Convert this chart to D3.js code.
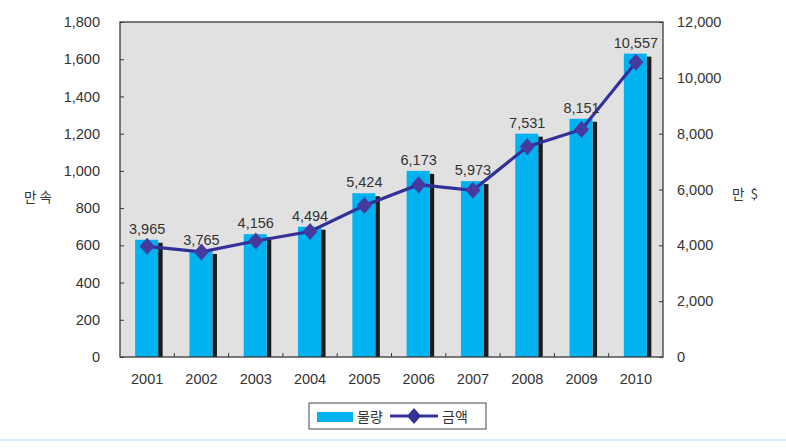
<!DOCTYPE html>
<html><head><meta charset="utf-8">
<script src="https://cdn.jsdelivr.net/npm/d3@7"></script>
<style>
html,body{margin:0;padding:0;background:#fff;}
svg{display:block;font-family:"Liberation Sans",Arial,sans-serif;}
</style></head>
<body>
<svg id="c" width="786" height="448"></svg>
<script>
const years = ['2001','2002','2003','2004','2005','2006','2007','2008','2009','2010'];
const volume = [630, 570, 660, 700, 880, 1000, 945, 1200, 1280, 1630];
const amount = [3965, 3765, 4156, 4494, 5424, 6173, 5973, 7531, 8151, 10557];
const leftTicks = [0,200,400,600,800,1000,1200,1400,1600,1800];
const rightTicks = [0,2000,4000,6000,8000,10000,12000];
const leftUnit = '만 속';
const rightUnit = '만  $';
const legendNames = ['물량','금액'];

const svg = d3.select('#c');
const L = 120, R = 663, T = 22, B = 357;
const x = d3.scaleBand().domain(years).range([L, R]);
const yL = d3.scaleLinear().domain([0, 1800]).range([B, T]);
const yR = d3.scaleLinear().domain([0, 12000]).range([B, T]);
const fmt = d3.format(',');
const textCol = '#333';
const FS = 14.5;

// plot background
svg.append('rect').attr('x', L).attr('y', T).attr('width', R - L).attr('height', B - T)
  .attr('fill', '#e1e1e1');

// bars
const g = svg.append('g');
years.forEach((yr, i) => {
  const c = x(yr) + x.bandwidth() / 2;
  const top = yL(volume[i]);
  g.append('rect').attr('x', c + 11).attr('y', top + 3).attr('width', 4.5).attr('height', B - top - 3)
    .attr('fill', '#1a1a1a');
  g.append('rect').attr('x', c - 12).attr('y', top).attr('width', 23).attr('height', B - top)
    .attr('fill', '#00b2ef');
});

// frame
svg.append('rect').attr('x', L).attr('y', T).attr('width', R - L).attr('height', B - T)
  .attr('fill', 'none').attr('stroke', '#3a3a3a').attr('stroke-width', 1.3);

// left axis
const ax = svg.append('g').attr('transform', `translate(${L},0)`)
  .call(d3.axisLeft(yL).tickValues(leftTicks).tickFormat(fmt).tickSize(-4).tickPadding(20));
ax.select('.domain').remove();
ax.selectAll('line').attr('stroke', '#3a3a3a');
ax.selectAll('text').attr('font-size', FS).attr('fill', textCol).attr('font-family', '"Liberation Sans",Arial,sans-serif');

// right axis
const axr = svg.append('g').attr('transform', `translate(${R},0)`)
  .call(d3.axisRight(yR).tickValues(rightTicks).tickFormat(fmt).tickSize(-4).tickPadding(14));
axr.select('.domain').remove();
axr.selectAll('line').attr('stroke', '#3a3a3a');
axr.selectAll('text').attr('font-size', FS).attr('fill', textCol).attr('font-family', '"Liberation Sans",Arial,sans-serif');

// bottom axis
const axb = svg.append('g').attr('transform', `translate(0,${B})`)
  .call(d3.axisBottom(x).tickSize(0).tickPadding(17));
axb.select('.domain').remove();
axb.selectAll('text').attr('font-size', FS).attr('fill', textCol).attr('font-family', '"Liberation Sans",Arial,sans-serif');
years.slice(1).forEach(yr => {
  svg.append('line').attr('x1', x(yr)).attr('x2', x(yr)).attr('y1', B).attr('y2', B - 4)
    .attr('stroke', '#3a3a3a').attr('stroke-width', 1);
});

// line
const line = d3.line().x((d, i) => x(years[i]) + x.bandwidth() / 2).y(d => yR(d));
svg.append('path').datum(amount).attr('d', line).attr('fill', 'none')
  .attr('stroke', '#34309a').attr('stroke-width', 3.2);
amount.forEach((v, i) => {
  svg.append('path').attr('d', 'M0,-8.5L7.5,0L0,8.5L-7.5,0Z')
    .attr('transform', `translate(${x(years[i]) + x.bandwidth() / 2},${yR(v)})`)
    .attr('fill', '#473a9e');
});

// data labels
amount.forEach((v, i) => {
  svg.append('text').attr('x', x(years[i]) + x.bandwidth() / 2).attr('y', yL(volume[i]) - 6)
    .attr('text-anchor', 'middle').attr('font-size', FS).attr('fill', textCol).text(fmt(v));
});

// axis unit titles
svg.append('text').attr('x', 38).attr('y', 202).attr('text-anchor', 'middle')
  .attr('font-size', 13.5).attr('fill', textCol)
  .attr('font-family', '"Noto Sans CJK KR",sans-serif').text(leftUnit);
svg.append('text').attr('x', 745).attr('y', 199).attr('text-anchor', 'middle')
  .attr('font-size', 13.5).attr('fill', textCol).attr('xml:space', 'preserve')
  .attr('font-family', '"Noto Sans CJK KR",sans-serif').text(rightUnit);

// legend
const lg = svg.append('g');
lg.append('rect').attr('x', 309).attr('y', 403).attr('width', 177).attr('height', 26)
  .attr('fill', '#fff').attr('stroke', '#444').attr('stroke-width', 1);
lg.append('rect').attr('x', 317).attr('y', 412).attr('width', 36).attr('height', 10).attr('fill', '#00b2ef');
lg.append('text').attr('x', 357).attr('y', 422).attr('font-size', 14).attr('fill', textCol)
  .attr('font-family', '"Noto Sans CJK KR",sans-serif').text(legendNames[0]);
lg.append('line').attr('x1', 390).attr('x2', 438).attr('y1', 416).attr('y2', 416)
  .attr('stroke', '#34309a').attr('stroke-width', 3.2);
lg.append('path').attr('d', 'M0,-8L7,0L0,8L-7,0Z').attr('transform', 'translate(414,416)').attr('fill', '#34309a');
lg.append('text').attr('x', 442).attr('y', 422).attr('font-size', 14).attr('fill', textCol)
  .attr('font-family', '"Noto Sans CJK KR",sans-serif').text(legendNames[1]);

// bottom rule
svg.append('line').attr('x1', 0).attr('x2', 786).attr('y1', 440).attr('y2', 440)
  .attr('stroke', '#c4ecf8').attr('stroke-width', 1.5);
</script>
</body></html>
